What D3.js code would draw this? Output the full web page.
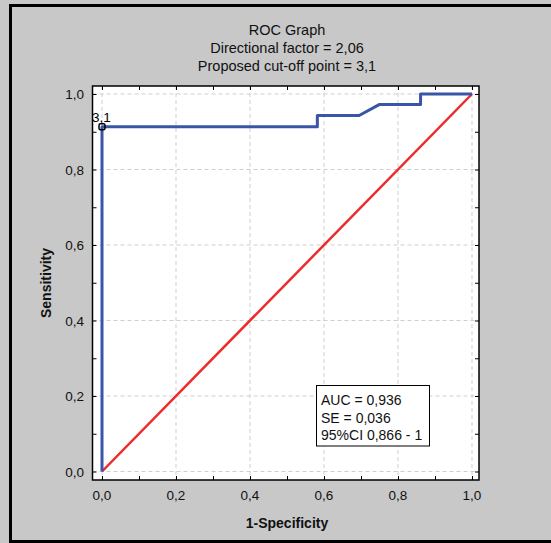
<!DOCTYPE html>
<html>
<head>
<meta charset="utf-8">
<script src="https://cdn.jsdelivr.net/npm/d3@7"></script>
<style>
  body { margin: 0; background: #c8c8c8; }
  svg { display: block; font-family: "Liberation Sans", Arial, sans-serif; }
</style>
</head>
<body>
<svg id="chart" width="551" height="543"></svg>
<script>
// chart data
var titleLines = ["ROC Graph", "Directional factor = 2,06", "Proposed cut-off point = 3,1"];
var rocX = [0, 0, 0.582, 0.582, 0.695, 0.749, 0.861, 0.861, 1];
var rocY = [0, 0.913, 0.913, 0.943, 0.943, 0.972, 0.972, 1, 1];
var refX = [0, 1];
var refY = [0, 1];
var cutX = 0, cutY = 0.913, cutLabel = "3,1";
var majorTicks = [0, 0.2, 0.4, 0.6, 0.8, 1.0];
var minorTicks = [0, 0.1, 0.2, 0.3, 0.4, 0.5, 0.6, 0.7, 0.8, 0.9, 1.0];
var statLines = ["AUC = 0,936", "SE = 0,036", "95%CI 0,866 - 1"];

var svg = d3.select("#chart");
var fmt = function(d) { return d3.format(".1f")(d).replace(".", ","); };

// outer frame
svg.append("rect").attr("x", 10.5).attr("y", 5.5).attr("width", 560).attr("height", 536)
  .attr("fill", "#c8c8c8").attr("stroke", "#000").attr("stroke-width", 3);

// titles
svg.selectAll("text.title").data(titleLines).enter().append("text")
  .attr("class", "title")
  .attr("x", 287).attr("y", function(d, i) { return 35 + i * 18; })
  .attr("text-anchor", "middle").attr("font-size", 14.5).attr("fill", "#111")
  .text(function(d) { return d; });

var frame = {left: 92.5, right: 479, top: 86, bottom: 480};
var x = d3.scaleLinear().domain([0, 1]).range([102, 472]);
var y = d3.scaleLinear().domain([0, 1]).range([471.5, 94]);

// plot background
svg.append("rect").attr("x", frame.left).attr("y", frame.top)
  .attr("width", frame.right - frame.left).attr("height", frame.bottom - frame.top)
  .attr("fill", "#fff");

// grid
var grid = svg.append("g").attr("stroke", "#cfcfcf").attr("stroke-dasharray", "4,3").attr("stroke-width", 1);
grid.selectAll("line.gx").data(majorTicks).enter().append("line")
  .attr("x1", function(d) { return x(d); }).attr("x2", function(d) { return x(d); })
  .attr("y1", frame.top).attr("y2", frame.bottom);
grid.selectAll("line.gy").data(majorTicks).enter().append("line")
  .attr("y1", function(d) { return y(d); }).attr("y2", function(d) { return y(d); })
  .attr("x1", frame.left).attr("x2", frame.right);

// inward ticks on all four sides
svg.append("g").attr("transform", "translate(0," + frame.bottom + ")")
  .call(d3.axisTop(x).tickValues(minorTicks).tickSize(4).tickFormat(""))
  .call(function(g) { g.select(".domain").remove(); });
svg.append("g").attr("transform", "translate(0," + frame.top + ")")
  .call(d3.axisBottom(x).tickValues(minorTicks).tickSize(4).tickFormat(""))
  .call(function(g) { g.select(".domain").remove(); });
svg.append("g").attr("transform", "translate(" + frame.left + ",0)")
  .call(d3.axisRight(y).tickValues(minorTicks).tickSize(4).tickFormat(""))
  .call(function(g) { g.select(".domain").remove(); });
svg.append("g").attr("transform", "translate(" + frame.right + ",0)")
  .call(d3.axisLeft(y).tickValues(minorTicks).tickSize(4).tickFormat(""))
  .call(function(g) { g.select(".domain").remove(); });
svg.selectAll(".tick line").attr("stroke", "#000");

// tick labels
svg.selectAll("text.xl").data(majorTicks).enter().append("text")
  .attr("x", function(d) { return x(d); }).attr("y", 500)
  .attr("text-anchor", "middle").attr("font-size", 13.5).attr("fill", "#111")
  .text(fmt);
svg.selectAll("text.yl").data(majorTicks).enter().append("text")
  .attr("x", 84).attr("y", function(d) { return y(d) + 5; })
  .attr("text-anchor", "end").attr("font-size", 13.5).attr("fill", "#111")
  .text(fmt);

// axis titles
svg.append("text").attr("x", 287).attr("y", 528).attr("text-anchor", "middle")
  .attr("font-size", 14).attr("font-weight", "bold").attr("fill", "#111").text("1-Specificity");
svg.append("text").attr("transform", "translate(51," + ((frame.top + frame.bottom) / 2) + ") rotate(-90)")
  .attr("text-anchor", "middle").attr("font-size", 14).attr("font-weight", "bold").attr("fill", "#111")
  .text("Sensitivity");

// reference diagonal
var line = d3.line().x(function(d) { return x(d[0]); }).y(function(d) { return y(d[1]); });
svg.append("path").datum(d3.zip(refX, refY))
  .attr("fill", "none").attr("stroke", "#ee2a2a").attr("stroke-width", 2.5).attr("d", line);

// ROC curve
svg.append("path").datum(d3.zip(rocX, rocY))
  .attr("fill", "none").attr("stroke", "#3a55a6").attr("stroke-width", 3)
  .attr("stroke-linejoin", "round").attr("d", line);

// cut-off point
svg.append("rect").attr("x", x(cutX) - 3).attr("y", y(cutY) - 3).attr("width", 6).attr("height", 6)
  .attr("rx", 1.5).attr("fill", "none").attr("stroke", "#000").attr("stroke-width", 1.5);
svg.append("text").attr("x", x(cutX) - 10).attr("y", y(cutY) - 5)
  .attr("font-size", 13.5).attr("fill", "#000").text(cutLabel);

// frame border
svg.append("rect").attr("x", frame.left).attr("y", frame.top)
  .attr("width", frame.right - frame.left).attr("height", frame.bottom - frame.top)
  .attr("fill", "none").attr("stroke", "#000").attr("stroke-width", 1.5);

// stats box
svg.append("rect").attr("x", 316.5).attr("y", 385.5).attr("width", 113).attr("height", 60.5)
  .attr("fill", "#fff").attr("stroke", "#000").attr("stroke-width", 1);
svg.selectAll("text.stat").data(statLines).enter().append("text")
  .attr("x", 321).attr("y", function(d, i) { return 405 + i * 17.5; })
  .attr("font-size", 14).attr("fill", "#111")
  .text(function(d) { return d; });
</script>
</body>
</html>
